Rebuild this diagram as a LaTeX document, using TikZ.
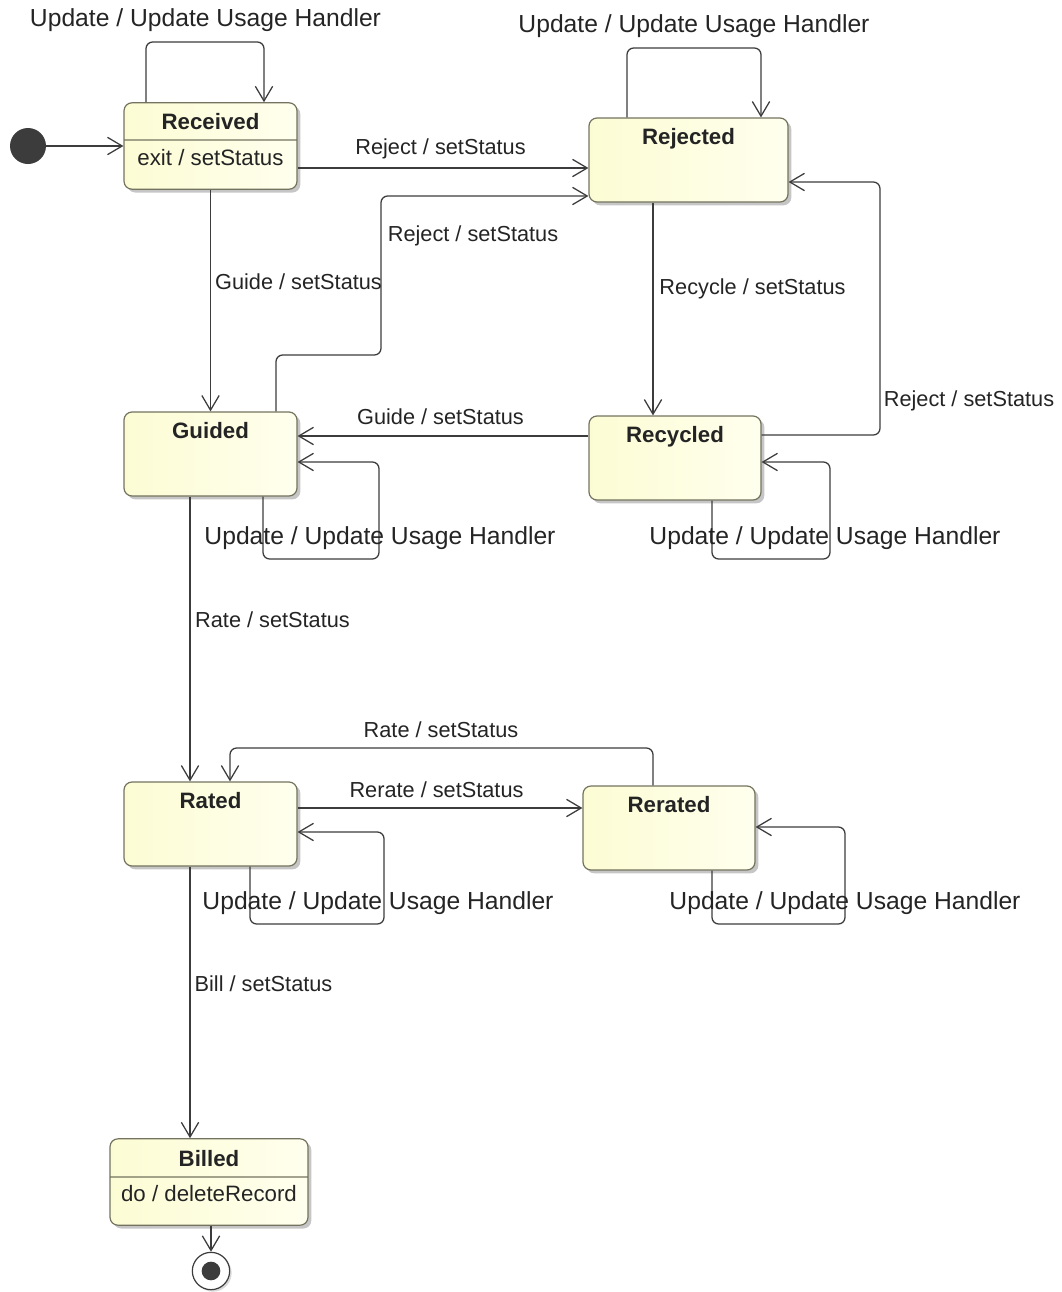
\documentclass[tikz,border=0pt]{standalone}
\usepackage{fontspec}
\setmainfont{Liberation Sans}
\usetikzlibrary{arrows.meta,shapes.multipart,shadows}

\definecolor{fillleft}{RGB}{252,252,212}
\definecolor{fillright}{RGB}{255,255,238}
\definecolor{stateline}{RGB}{115,115,95}
\definecolor{wire}{RGB}{60,60,60}
\definecolor{ink}{RGB}{36,36,36}

\tikzset{
  box/.style={draw=stateline, line width=0.9pt, left color=fillleft, right color=fillright,
    rounded corners=6pt,
    drop shadow={shadow xshift=2.5pt, shadow yshift=-2.5pt, opacity=0.45},
    text=ink, font=\fontsize{16.7}{20}\selectfont, inner ysep=0pt},
  state/.style={box, font=\fontsize{16.7}{20}\selectfont\bfseries,
    minimum height=63pt, text height=19.5pt, text depth=43.5pt},
  splitstate/.style={box, rectangle split, rectangle split parts=2},
  initial/.style={circle, fill=wire, minimum size=27pt, inner sep=0pt},
  final/.style={circle, draw=wire, line width=0.9pt, fill=white, minimum size=28pt, inner sep=0pt,
    drop shadow={shadow xshift=1.5pt, shadow yshift=-1.5pt, opacity=0.3},
    path picture={\fill[wire] (path picture bounding box.center) circle (7pt);}},
  trans/.style={draw=wire, line width=0.95pt, rounded corners=5pt,
    -{Straight Barb[length=11pt,width=13pt]}},
  lbl/.style={text=ink, font=\fontsize{16.3}{19}\selectfont, inner sep=1pt},
  looplbl/.style={lbl, font=\fontsize{18.5}{22}\selectfont}
}

\begin{document}
\begin{tikzpicture}[x=0.75pt,y=0.75pt,yscale=-1,xscale=1]
  \useasboundingbox (0,0) rectangle (1062,1292);

  % states
  \node[initial] (init) at (28,146) {};
  \node[splitstate, minimum width=129.75pt] (received) at (210.5,146)
    {\rule[-7.75pt]{0pt}{27pt}\textbf{Received}\nodepart{two}\rule[-17.25pt]{0pt}{36pt}exit / setStatus};
  \node[state, minimum width=149.25pt] (rejected) at (688.5,160) {Rejected};
  \node[state, minimum width=129.75pt] (guided) at (210.5,454) {Guided};
  \node[state, minimum width=129pt] (recycled) at (675,458) {Recycled};
  \node[state, minimum width=129.75pt] (rated) at (210.5,824) {Rated};
  \node[state, minimum width=129pt] (rerated) at (669,828) {Rerated};
  \node[splitstate, minimum width=148.5pt] (billed) at (209,1182)
    {\rule[-7.75pt]{0pt}{27.75pt}\textbf{Billed}\nodepart{two}\rule[-17.25pt]{0pt}{35.25pt}do / deleteRecord};
  \node[final] (final) at (211,1271) {};

  % transitions
  \draw[trans] (init) -- (received.west);
  \draw[trans] (received.north -| 146,0) -- (146,42) -- (264,42) -- (received.north -| 264,0);
  \draw[trans] (rejected.north -| 627,0) -- (627,48) -- (761,48) -- (rejected.north -| 761,0);
  \draw[trans] (received.east |- 0,168) -- (rejected.west |- 0,168);
  \draw[trans] (guided.north -| 276,0) -- (276,355) -- (381,355) -- (381,196) -- (rejected.west |- 0,196);
  \draw[trans] (received.south) -- (guided.north);
  \draw[trans] (rejected.south -| 653,0) -- (recycled.north -| 653,0);
  \draw[trans] (recycled.east |- 0,435) -- (880,435) -- (880,182) -- (rejected.east |- 0,182);
  \draw[trans] (recycled.west |- 0,436) -- (guided.east |- 0,436);
  \draw[trans] (guided.south -| 263,0) -- (263,559) -- (379,559) -- (379,462) -- (guided.east |- 0,462);
  \draw[trans] (recycled.south -| 712,0) -- (712,559) -- (830,559) -- (830,462) -- (recycled.east |- 0,462);
  \draw[trans] (guided.south -| 190,0) -- (rated.north -| 190,0);
  \draw[trans] (rerated.north -| 653,0) -- (653,748) -- (230,748) -- (rated.north -| 230,0);
  \draw[trans] (rated.east |- 0,808) -- (rerated.west |- 0,808);
  \draw[trans] (rated.south -| 250,0) -- (250,924) -- (384,924) -- (384,832) -- (rated.east |- 0,832);
  \draw[trans] (rerated.south -| 712,0) -- (712,924) -- (845,924) -- (845,827) -- (rerated.east |- 0,827);
  \draw[trans] (rated.south -| 190,0) -- (billed.north -| 190,0);
  \draw[trans] (billed.south -| final) -- (final);

  % Text Node
  \node[looplbl] (recvloop) at (205.5,20) {Update / Update Usage Handler};
  \node[looplbl] (rejloop) at (694,26) {Update / Update Usage Handler};
  \node[lbl] (recvrej) at (440.5,149) {Reject / setStatus};
  \node[lbl] (guidrej) at (473,236) {Reject / setStatus};
  \node[lbl] (recvguid) at (298.5,282) {Guide / setStatus};
  \node[lbl] (rejrecy) at (752.5,289) {Recycle / setStatus};
  \node[lbl] (recyrej) at (969,401) {Reject / setStatus};
  \node[lbl] (recyguid) at (440.5,417) {Guide / setStatus};
  \node[looplbl] (guidloop) at (380,538) {Update / Update Usage Handler};
  \node[looplbl] (recyloop) at (825,538) {Update / Update Usage Handler};
  \node[lbl] (guidrate) at (272.5,620) {Rate / setStatus};
  \node[lbl] (rerarate) at (441,730) {Rate / setStatus};
  \node[lbl] (ratrera) at (436.5,790) {Rerate / setStatus};
  \node[looplbl] (ratloop) at (378,903) {Update / Update Usage Handler};
  \node[looplbl] (reraloop) at (845,903) {Update / Update Usage Handler};
  \node[lbl] (ratbill) at (263.5,984) {Bill / setStatus};
\end{tikzpicture}
\end{document}
